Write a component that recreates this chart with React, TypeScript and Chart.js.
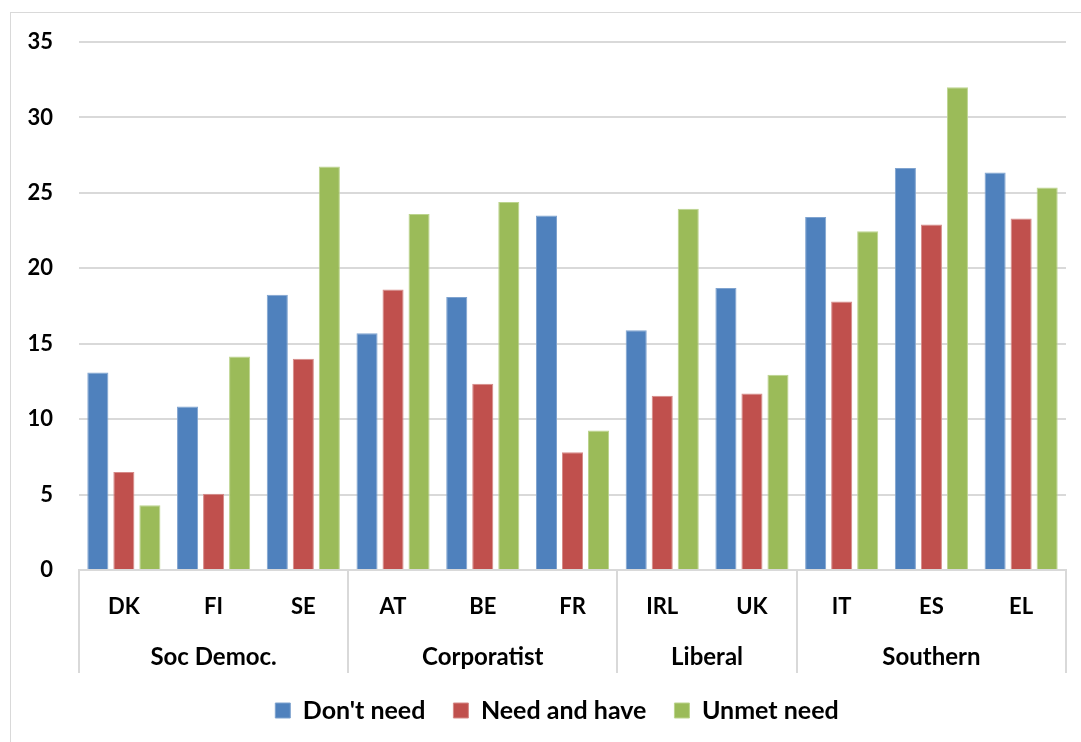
import React, { useEffect, useRef } from "react";
import { Chart, registerables } from "chart.js";

Chart.register(...registerables);

const countries = ["DK", "FI", "SE", "AT", "BE", "FR", "IRL", "UK", "IT", "ES", "EL"];
const groupNames = ["Soc Democ.", "Corporatist", "Liberal", "Southern"];
const groupSizes = [3, 3, 2, 3];
const dontNeed = [13.1, 10.83, 18.25, 15.7, 18.1, 23.5, 15.9, 18.7, 23.4, 26.65, 26.35];
const needAndHave = [6.5, 5.05, 14.0, 18.6, 12.35, 7.8, 11.55, 11.7, 17.8, 22.9, 23.3];
const unmetNeed = [4.3, 14.16, 26.74, 23.6, 24.4, 9.25, 23.95, 12.95, 22.45, 32.0, 25.35];
const yTicks = [0, 5, 10, 15, 20, 25, 30, 35];

const FONT = "Lato, 'Open Sans', sans-serif";
const GRID = "#d9d9d9";

const groupPlugin = {
  id: "groupLabels",
  beforeDraw(chart: any) {
    if (chart.legend) {
      chart.legend.left = 48;
      chart.legend.right = chart.chartArea.right;
    }
  },
  afterDraw(chart: any) {
    const { ctx, chartArea, scales } = chart;
    const x = scales.x;
    const n = countries.length;
    const step = (chartArea.right - chartArea.left) / n;
    const top = chartArea.bottom;
    const bottom = top + 103;
    ctx.save();
    ctx.strokeStyle = GRID;
    ctx.lineWidth = 2;
    let idx = 0;
    const bounds: number[] = [chartArea.left];
    groupSizes.forEach((s) => {
      idx += s;
      bounds.push(x.getPixelForValue(idx - 1) + step / 2);
    });
    bounds.forEach((b) => {
      const px = Math.round(b);
      ctx.beginPath();
      ctx.moveTo(px, top);
      ctx.lineTo(px, bottom);
      ctx.stroke();
    });
    ctx.fillStyle = "#000";
    ctx.font = `bold 24px ${FONT}`;
    ctx.textAlign = "center";
    ctx.textBaseline = "middle";
    groupNames.forEach((g, i) => {
      ctx.fillText(g, (bounds[i] + bounds[i + 1]) / 2, top + 87);
    });
    ctx.restore();
  },
};

export default function App() {
  const ref = useRef<HTMLCanvasElement>(null);
  useEffect(() => {
    if (!ref.current) return;
    const chart = new Chart(ref.current, {
      type: "bar",
      data: {
        labels: countries,
        datasets: [
          { label: "Don't need", data: dontNeed, backgroundColor: "#4F81BD", borderColor: "#7fa3cf", borderWidth: 1 },
          { label: "Need and have", data: needAndHave, backgroundColor: "#C0504D", borderColor: "#d68a88", borderWidth: 1 },
          { label: "Unmet need", data: unmetNeed, backgroundColor: "#9BBB59", borderColor: "#bcd48e", borderWidth: 1 },
        ],
      },
      options: {
        animation: false,
        responsive: false,
        maintainAspectRatio: false,
        layout: { padding: { top: 42, right: 15, left: 0, bottom: 9 } },
        datasets: { bar: { categoryPercentage: 0.87, barPercentage: 0.81 } },
        plugins: {
          tooltip: { enabled: false },
          legend: {
            position: "bottom",
            labels: {
              color: "#000",
              font: { family: FONT, size: 25, weight: "bold" },
              boxWidth: 15,
              boxHeight: 15,
              padding: 28,
            },
          },
        },
        scales: {
          x: {
            grid: { display: false, drawTicks: false },
            border: { display: true, color: GRID, width: 2 },
            ticks: { color: "#000", font: { family: FONT, size: 22, weight: "bold" }, padding: 24 },
            afterFit(scale: any) {
              scale.height = 100;
            },
          },
          y: {
            min: 0,
            max: 35,
            afterBuildTicks(scale: any) {
              scale.ticks = yTicks.map((v) => ({ value: v }));
            },
            grid: { color: GRID, lineWidth: 2, drawTicks: false },
            border: { display: false },
            ticks: { color: "#000", font: { family: FONT, size: 22, weight: "bold" }, padding: 26 },
            afterFit(scale: any) {
              scale.width = 79;
            },
          },
        },
      },
      plugins: [groupPlugin],
    });
    return () => chart.destroy();
  }, []);
  return (
    <div style={{ position: "absolute", left: 0, top: 0, width: 1081, height: 742, background: "#fff", overflow: "hidden" }}>
      <div style={{ position: "absolute", left: 10, top: 12, width: 1080, height: 740, border: "1px solid #d9d9d9", boxSizing: "border-box" }} />
      <canvas ref={ref} width={1081} height={742} style={{ position: "absolute", left: 0, top: 0 }} />
    </div>
  );
}
